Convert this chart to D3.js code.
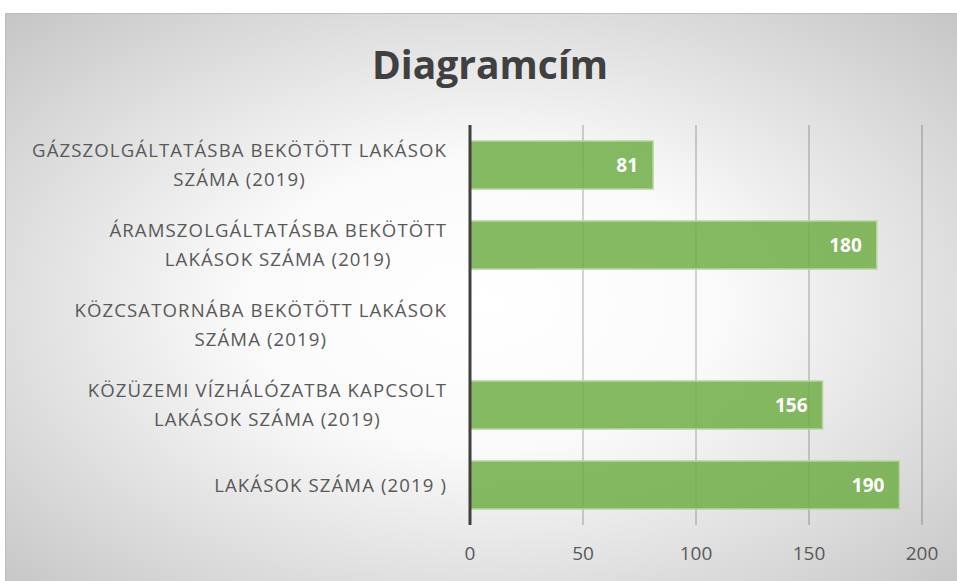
<!DOCTYPE html>
<html>
<head>
<meta charset="utf-8">
<script src="https://cdn.jsdelivr.net/npm/d3@7"></script>
<style>
  body { margin: 0; background: #fff; }
  svg { display: block; }
</style>
</head>
<body>
<svg id="chart" width="957" height="581"></svg>
<script>
// data
var categories = [
  ["GÁZSZOLGÁLTATÁSBA BEKÖTÖTT LAKÁSOK", "SZÁMA (2019)"],
  ["ÁRAMSZOLGÁLTATÁSBA BEKÖTÖTT", "LAKÁSOK SZÁMA (2019)"],
  ["KÖZCSATORNÁBA BEKÖTÖTT LAKÁSOK", "SZÁMA (2019)"],
  ["KÖZÜZEMI VÍZHÁLÓZATBA KAPCSOLT", "LAKÁSOK SZÁMA (2019)"],
  ["LAKÁSOK SZÁMA (2019 )"]
];
var values = [81, 180, null, 156, 190];
var xTicks = [0, 50, 100, 150, 200];
var title = "Diagramcím";

var svg = d3.select("#chart"),
  width = +svg.attr("width"),
  height = +svg.attr("height");

// background
var defs = svg.append("defs");
var grad = defs.append("radialGradient")
  .attr("id", "bg")
  .attr("cx", "50%").attr("cy", "50%").attr("r", "72%");
grad.append("stop").attr("offset", "0%").attr("stop-color", "#ffffff");
grad.append("stop").attr("offset", "35%").attr("stop-color", "#fafafa");
grad.append("stop").attr("offset", "100%").attr("stop-color", "#c4c4c4");

svg.append("rect")
  .attr("x", 5.5).attr("y", 13.5)
  .attr("width", width).attr("height", height)
  .attr("fill", "url(#bg)")
  .attr("stroke", "#bdbdbd");

var margin = {top: 125, left: 470, right: 35, bottom: 56};

var x = d3.scaleLinear()
  .domain([0, 200])
  .range([margin.left, width - margin.right]);

var y = d3.scaleBand()
  .domain(d3.range(categories.length))
  .range([margin.top, height - margin.bottom])
  .paddingInner(0.4)
  .paddingOuter(0.2);

// title
svg.append("text")
  .attr("x", 490).attr("y", 79)
  .attr("text-anchor", "middle")
  .attr("font-family", "'Open Sans', sans-serif")
  .attr("font-weight", "bold")
  .attr("font-size", 39)
  .attr("fill", "#404040")
  .text(title);

// gridlines
svg.append("g")
  .selectAll("line")
  .data(xTicks.slice(1))
  .enter().append("line")
  .attr("x1", function(d) { return x(d); })
  .attr("x2", function(d) { return x(d); })
  .attr("y1", margin.top)
  .attr("y2", height - margin.bottom)
  .attr("stroke", "rgba(0,0,0,0.28)")
  .attr("stroke-width", 1.2);

// tick labels
svg.append("g")
  .selectAll("text")
  .data(xTicks)
  .enter().append("text")
  .attr("x", function(d) { return x(d); })
  .attr("y", 560)
  .attr("text-anchor", "middle")
  .attr("font-family", "'Open Sans', sans-serif")
  .attr("font-size", 19)
  .attr("fill", "#595959")
  .text(function(d) { return d; });

// bars
var bars = svg.append("g")
  .selectAll("g")
  .data(values.map(function(v, i) { return {v: v, i: i}; }).filter(function(d) { return d.v != null; }))
  .enter().append("g");

bars.append("rect")
  .attr("x", x(0))
  .attr("y", function(d) { return y(d.i); })
  .attr("width", function(d) { return x(d.v) - x(0); })
  .attr("height", y.bandwidth())
  .attr("fill", "#70ad47")
  .attr("fill-opacity", 0.85)
  .attr("stroke", "#b5d6a0")
  .attr("stroke-width", 1.5);

bars.append("text")
  .attr("x", function(d) { return x(d.v) - 15; })
  .attr("y", function(d) { return y(d.i) + y.bandwidth() / 2; })
  .attr("dy", "0.36em")
  .attr("text-anchor", "end")
  .attr("font-family", "'Open Sans', sans-serif")
  .attr("font-weight", "bold")
  .attr("font-size", 19)
  .attr("fill", "#ffffff")
  .text(function(d) { return d.v; });

// category labels
var lineH = 29;
svg.append("g")
  .selectAll("text")
  .data(categories)
  .enter().append("text")
  .attr("text-anchor", "middle")
  .attr("font-family", "'Open Sans', sans-serif")
  .attr("font-size", 18.6)
  .attr("letter-spacing", 1.1)
  .attr("fill", "#595959")
  .each(function(lines, i) {
    var cy = y(i) + y.bandwidth() / 2;
    var t = d3.select(this);
    var y0 = cy - (lines.length - 1) * lineH / 2;
    lines.forEach(function(s, k) {
      t.append("tspan")
        .attr("y", y0 + k * lineH)
        .attr("dy", "0.36em")
        .text(s);
    });
    // center lines around the widest line, right aligned at 447
    var spans = t.selectAll("tspan").nodes();
    var wmax = d3.max(spans, function(n) { return n.getComputedTextLength(); });
    t.selectAll("tspan").attr("x", 447 - wmax / 2);
  });

// y axis line
svg.append("line")
  .attr("x1", x(0)).attr("x2", x(0))
  .attr("y1", margin.top).attr("y2", height - margin.bottom)
  .attr("stroke", "#404040")
  .attr("stroke-width", 3);
</script>
</body>
</html>
